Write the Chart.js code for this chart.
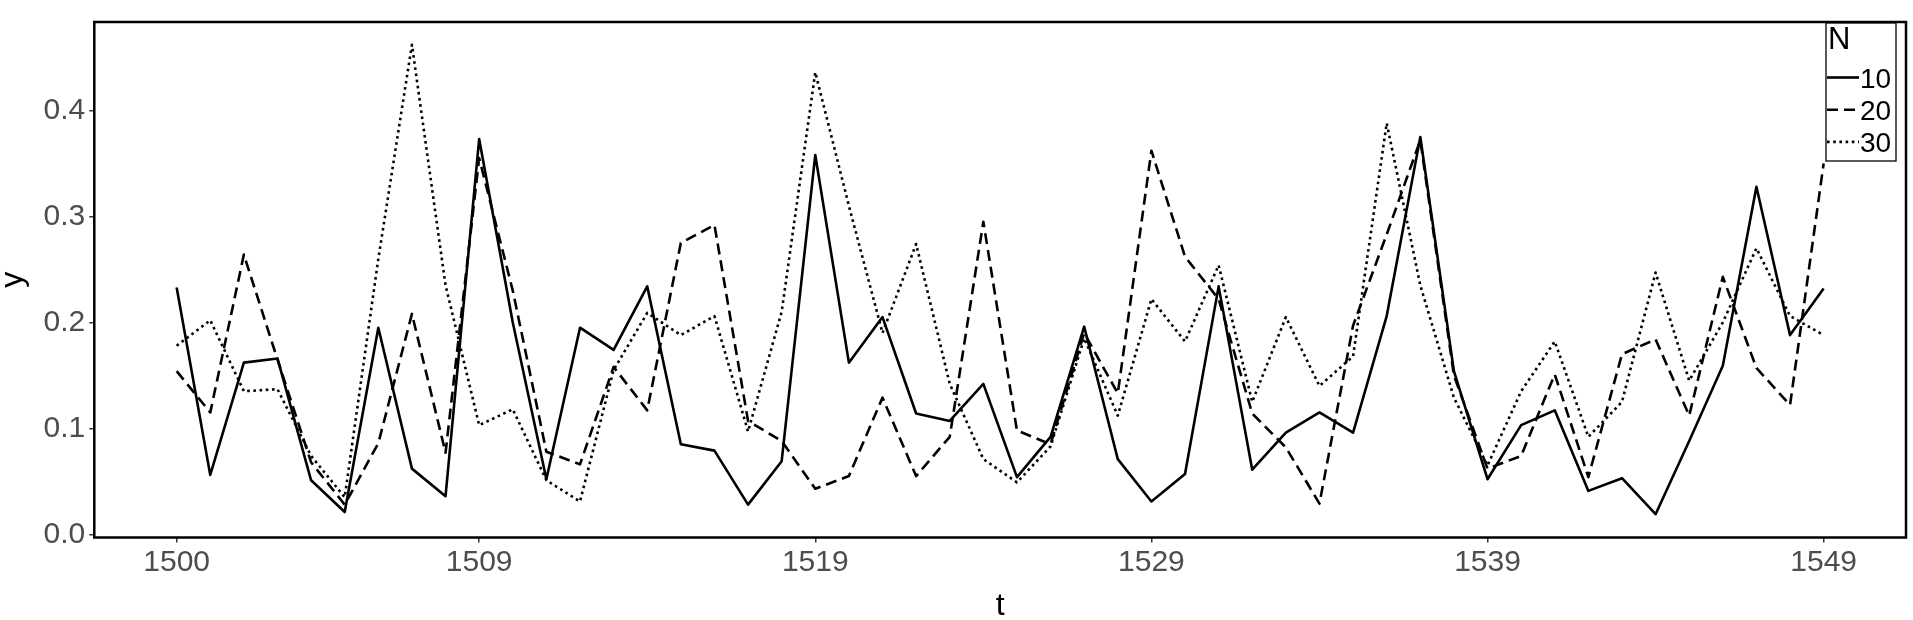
<!DOCTYPE html>
<html>
<head>
<meta charset="utf-8">
<script src="https://cdn.jsdelivr.net/npm/chart.js@4.4.1/dist/chart.umd.min.js"></script>
<style>
    html, body { margin: 0; padding: 0; background: #fff; }
    #chart { display: block; }
</style>
</head>
<body>
<canvas id="chart" width="1913" height="620"></canvas>
<script>
const years = [1500, 1501, 1502, 1503, 1504, 1505, 1506, 1507, 1508, 1509,
    1510, 1511, 1512, 1513, 1514, 1515, 1516, 1517, 1518, 1519,
    1520, 1521, 1522, 1523, 1524, 1525, 1526, 1527, 1528, 1529,
    1530, 1531, 1532, 1533, 1534, 1535, 1536, 1537, 1538, 1539,
    1540, 1541, 1542, 1543, 1544, 1545, 1546, 1547, 1548, 1549];

const xTicks = [1500, 1509, 1519, 1529, 1539, 1549];
const yTicks = [0, 0.1, 0.2, 0.3, 0.4];

const legendTitle = 'N';
const seriesNames = ['10', '20', '30'];

// N = 10 (solid)
const n10 = [0.233, 0.056, 0.162, 0.166, 0.051, 0.021, 0.195, 0.062, 0.036, 0.373,
    0.200, 0.052, 0.195, 0.174, 0.234, 0.085, 0.079, 0.028, 0.069, 0.358,
    0.162, 0.205, 0.114, 0.107, 0.142, 0.054, 0.092, 0.196, 0.071, 0.031,
    0.057, 0.234, 0.061, 0.096, 0.115, 0.096, 0.206, 0.375, 0.154, 0.052,
    0.103, 0.117, 0.041, 0.053, 0.019, 0.088, 0.159, 0.328, 0.188, 0.232];

// N = 20 (dashed)
const n20 = [0.154, 0.115, 0.264, 0.165, 0.068, 0.028, 0.086, 0.208, 0.077, 0.355,
    0.230, 0.078, 0.066, 0.158, 0.117, 0.275, 0.292, 0.107, 0.088, 0.043,
    0.055, 0.129, 0.055, 0.092, 0.295, 0.098, 0.085, 0.190, 0.133, 0.362,
    0.262, 0.222, 0.114, 0.082, 0.029, 0.197, 0.283, 0.372, 0.150, 0.062,
    0.074, 0.151, 0.054, 0.170, 0.184, 0.112, 0.243, 0.157, 0.122, 0.350];

// N = 30 (dotted)
const n30 = [0.178, 0.202, 0.135, 0.137, 0.074, 0.035, 0.260, 0.462, 0.235, 0.103,
    0.118, 0.051, 0.031, 0.155, 0.209, 0.188, 0.206, 0.097, 0.210, 0.436,
    0.310, 0.190, 0.274, 0.142, 0.071, 0.049, 0.083, 0.185, 0.112, 0.222,
    0.182, 0.254, 0.125, 0.205, 0.140, 0.168, 0.388, 0.235, 0.129, 0.065,
    0.135, 0.182, 0.092, 0.125, 0.247, 0.145, 0.200, 0.270, 0.206, 0.188];

const dashes = [[], [11, 6], [2.6, 3.6]];
const FONT = "'Liberation Sans', Arial, Helvetica, sans-serif";

Chart.defaults.font.family = FONT;

function toPoints(values) {
    return years.map((yr, i) => ({ x: yr, y: values[i] }));
}

// black frame round the panel
const panelBorder = {
    id: 'panelBorder',
    afterDatasetsDraw(chart) {
        const { ctx, chartArea: a } = chart;
        ctx.save();
        ctx.strokeStyle = '#000';
        ctx.lineWidth = 2.5;
        ctx.strokeRect(a.left, a.top, a.right - a.left, a.bottom - a.top);
        ctx.restore();
    }
};

// ggplot-like legend box in the top right corner
const boxLegend = {
    id: 'boxLegend',
    afterDraw(chart) {
        const ctx = chart.ctx;
        const left = 1826, top = 23, width = 70, height = 138;
        ctx.save();
        ctx.fillStyle = '#fff';
        ctx.fillRect(left, top, width, height);
        ctx.strokeStyle = '#000';
        ctx.lineWidth = 1.3;
        ctx.strokeRect(left, top, width, height);

        ctx.fillStyle = '#000';
        ctx.textBaseline = 'alphabetic';
        ctx.textAlign = 'left';
        ctx.font = `31px ${FONT}`;
        ctx.fillText(legendTitle, left + 2, 49);

        ctx.font = `28px ${FONT}`;
        chart.data.datasets.forEach((ds, i) => {
            const base = 87.5 + i * 32.2;
            const ly = base - 10;
            ctx.beginPath();
            ctx.setLineDash(ds.borderDash || []);
            ctx.lineWidth = ds.borderWidth;
            ctx.strokeStyle = '#000';
            ctx.moveTo(left + 1, ly);
            ctx.lineTo(left + 33, ly);
            ctx.stroke();
            ctx.setLineDash([]);
            ctx.fillText(ds.label, left + 34, base);
        });
        ctx.restore();
    }
};

new Chart(document.getElementById('chart').getContext('2d'), {
    type: 'line',
    data: {
        datasets: seriesNames.map((name, i) => ({
            label: name,
            data: toPoints([n10, n20, n30][i]),
            borderColor: '#000',
            borderWidth: 2.6,
            borderDash: dashes[i],
            borderCapStyle: 'butt',
            borderJoinStyle: 'round',
            pointRadius: 0,
            tension: 0,
            fill: false
        }))
    },
    options: {
        responsive: false,
        devicePixelRatio: 1,
        animation: false,
        layout: { padding: { top: 13, right: 7, left: 0, bottom: 0 } },
        plugins: {
            legend: { display: false },
            tooltip: { enabled: false }
        },
        scales: {
            x: {
                type: 'linear',
                min: 1497.55,
                max: 1551.45,
                afterBuildTicks: scale => { scale.ticks = xTicks.map(v => ({ value: v })); },
                afterFit: scale => { scale.height = 82.5; },
                grid: { drawOnChartArea: false, drawTicks: true, tickLength: 5, color: '#333', lineWidth: 1.5 },
                border: { display: false },
                ticks: {
                    color: '#4d4d4d',
                    font: { size: 30 },
                    padding: 2,
                    maxRotation: 0,
                    callback: v => String(v)
                },
                title: {
                    display: true,
                    text: 't',
                    color: '#000',
                    font: { size: 32, lineHeight: 0.85 },
                    padding: 0
                }
            },
            y: {
                min: -0.003,
                max: 0.4835,
                afterBuildTicks: scale => { scale.ticks = yTicks.map(v => ({ value: v })); },
                afterFit: scale => { scale.width = 94.3; },
                grid: { drawOnChartArea: false, drawTicks: true, tickLength: 5, color: '#333', lineWidth: 1.5 },
                border: { display: false },
                ticks: {
                    color: '#4d4d4d',
                    font: { size: 30 },
                    padding: 4,
                    callback: v => v.toFixed(1)
                },
                title: {
                    display: true,
                    text: 'y',
                    color: '#000',
                    font: { size: 32, lineHeight: 0.85 },
                    padding: 0
                }
            }
        }
    },
    plugins: [panelBorder, boxLegend]
});
</script>
</body>
</html>
